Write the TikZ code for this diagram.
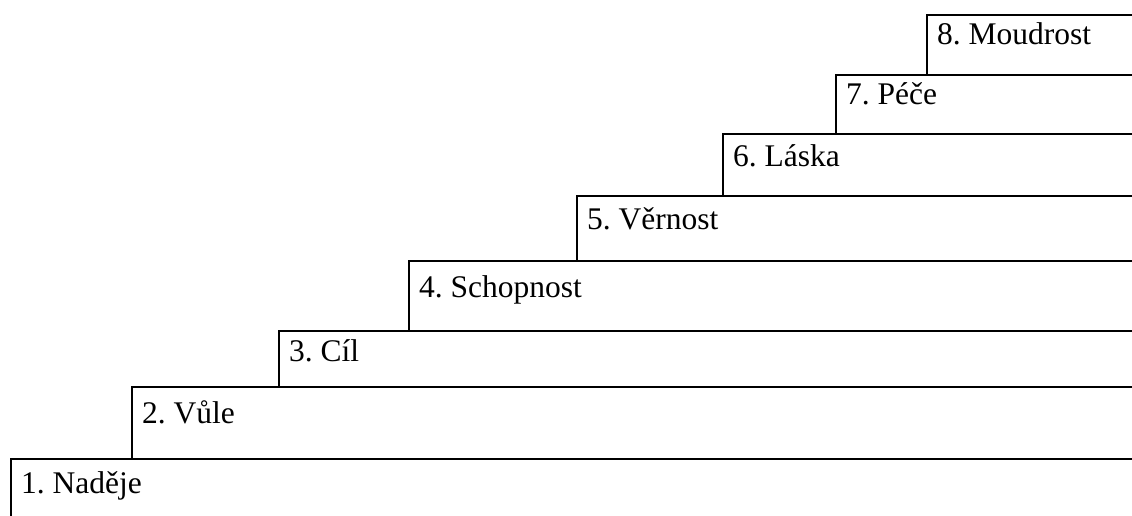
\documentclass[tikz,border=0pt]{standalone}
\usepackage{fontspec}
\setmainfont{Liberation Serif}
\frenchspacing
\begin{document}
\begin{tikzpicture}[x=1pt,y=-1pt,
  stairline/.style={line width=2pt,line cap=rect},
  steplabel/.style={anchor=base west,inner sep=0pt,
    font=\fontsize{31.5}{38}\selectfont}]
\useasboundingbox (0,0) rectangle (1132,516);
% each step: left edge / top edge / bottom of its riser / baseline drop / label
\foreach \n/\l/\t/\b/\d/\txt in {
  1/11/459/516/34/{1. Naděje},
  2/132/387/459/36/{2. Vůle},
  3/279/331/387/30/{3. Cíl},
  4/409/261/331/36/{4. Schopnost},
  5/577/196/261/33/{5. Věrnost},
  6/723/134/196/32/{6. Láska},
  7/836/75/134/30/{7. Péče},
  8/927/15/75/30/{8. Moudrost}}{
  \coordinate (c\n) at (\l,\t);
  \draw[stairline] (c\n) -- (1140,\t);
  \draw[stairline] (c\n) -- (\l,\b);
  \node[steplabel] (s\n) at (\l+10,\t+\d) {\txt};
}
\end{tikzpicture}
\end{document}
